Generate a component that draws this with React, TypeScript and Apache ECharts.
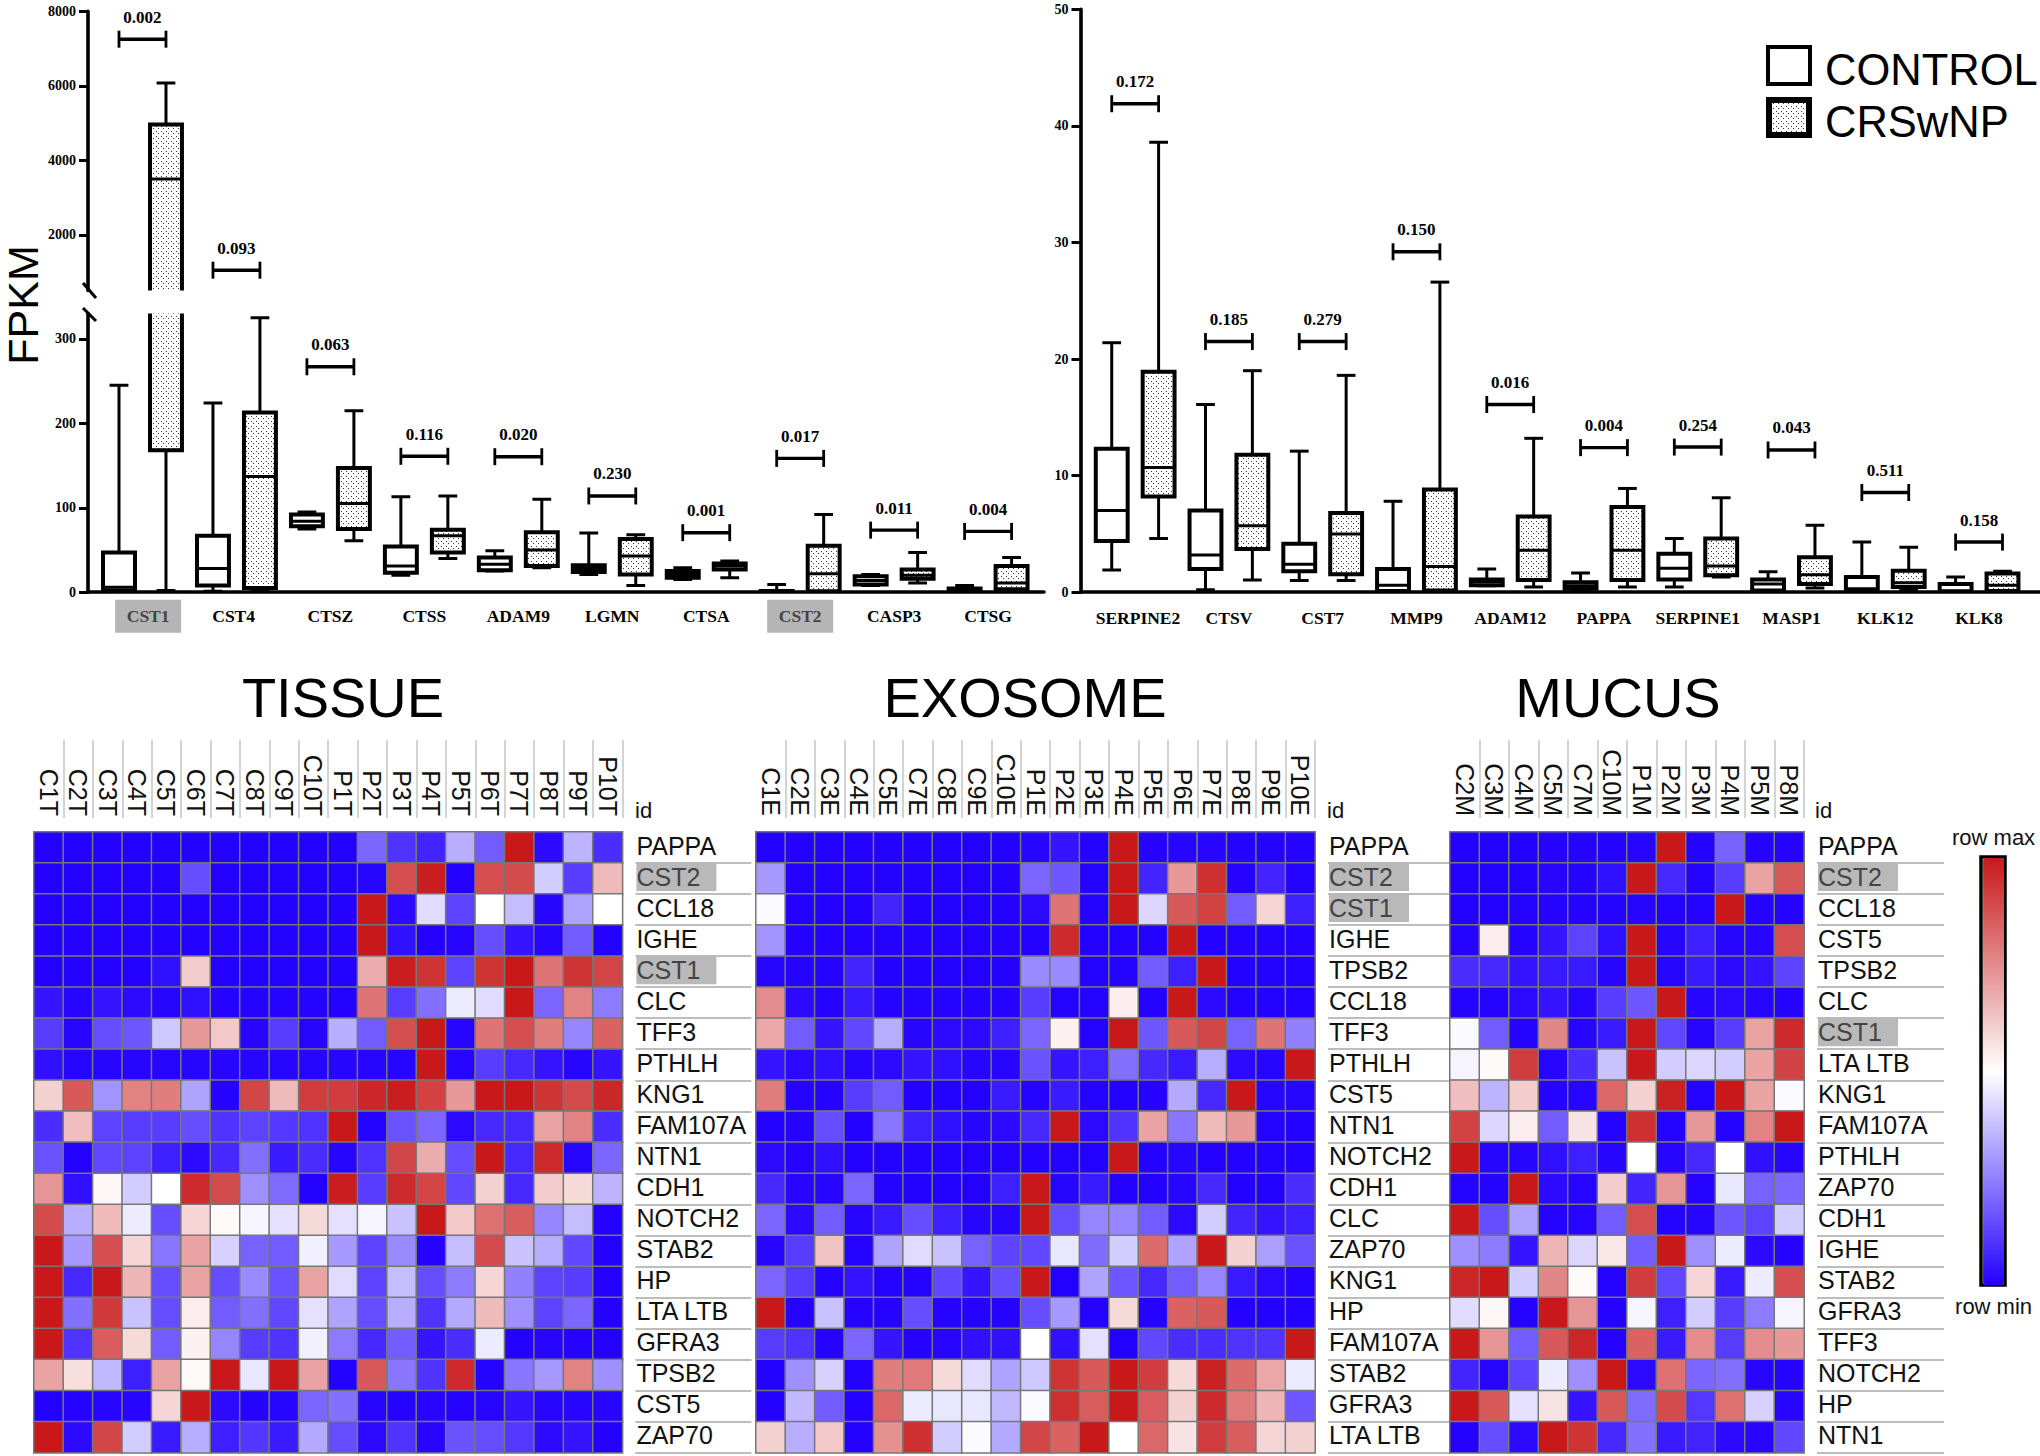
import React, { useEffect, useRef } from "react";
import * as echarts from "echarts";

const leftGenes = ["CST1", "CST4", "CTSZ", "CTSS", "ADAM9", "LGMN", "CTSA", "CST2", "CASP3", "CTSG"];
const leftLabelPositions = [0.06, 0.97, 2, 3, 4, 5, 6, 7, 8, 9];
const rightGenes = ["SERPINE2", "CTSV", "CST7", "MMP9", "ADAM12", "PAPPA", "SERPINE1", "MASP1", "KLK12", "KLK8"];
const rightLabelPositions = [0.03, 1, 2, 3, 4, 5, 6, 7, 8, 9];

// [low, q1, median, q3, high]
const leftControl = [
  [0.5, 2, 6, 47, 245], [1, 8, 28, 67, 224], [75, 78, 84, 92, 95], [20, 23, 31, 54, 113], [25, 26, 33, 41, 49],
  [21, 24, 28, 32, 70], [15, 17, 21, 25, 29], [0.3, 0.5, 1, 1.5, 9], [8, 9, 14, 19, 21], [1, 1.5, 2.5, 4.5, 8],
];
const leftCrs = [
  [2, 168, 3500, 4960, 6080], [1, 5, 137, 213, 325], [61, 75, 105, 147, 215], [40, 47, 67, 74, 114], [29, 31, 50, 71, 110],
  [8, 21, 43, 63, 68], [17, 27, 31, 34, 37], [0.5, 1, 22, 55, 92], [11, 16, 20, 27, 47], [2, 3.5, 11, 31, 41],
];
const rightControl = [
  [1.9, 4.4, 7.0, 12.3, 21.4], [0.2, 2.0, 3.2, 7.0, 16.1], [1.0, 1.8, 2.4, 4.15, 12.1], [0.05, 0.1, 0.6, 2.0, 7.8], [0.55, 0.6, 0.9, 1.1, 2.0],
  [0.2, 0.3, 0.55, 0.85, 1.65], [0.45, 1.1, 2.05, 3.3, 4.6], [0.07, 0.15, 0.7, 1.1, 1.75], [0.07, 0.1, 0.3, 1.3, 4.3], [0.03, 0.07, 0.1, 0.7, 1.3],
];
const rightCrs = [
  [4.6, 8.2, 10.7, 18.9, 38.6], [1.05, 3.7, 5.7, 11.8, 19.0], [1.0, 1.55, 5.0, 6.8, 18.6], [0.1, 0.15, 2.2, 8.8, 26.6], [0.45, 1.05, 3.6, 6.5, 13.2],
  [0.45, 1.05, 3.6, 7.3, 8.9], [1.3, 1.45, 2.25, 4.6, 8.1], [0.35, 0.7, 1.5, 3.0, 5.75], [0.2, 0.45, 0.8, 1.85, 3.85], [0.05, 0.1, 0.6, 1.6, 1.8],
];

const leftBrackets = [7254, 1050, 267, 161, 160.5, 114, 70.5, 158.5, 73.5, 72];
const leftPValues = ["0.002", "0.093", "0.063", "0.116", "0.020", "0.230", "0.001", "0.017", "0.011", "0.004"];
const rightBrackets = [41.9, 21.5, 21.5, 29.2, 16.1, 12.4, 12.45, 12.2, 8.55, 4.3];
const rightPValues = ["0.172", "0.185", "0.279", "0.150", "0.016", "0.004", "0.254", "0.043", "0.511", "0.158"];

const upperTicks = [2000, 4000, 6000, 8000];
const lowerTicks = [0, 100, 200, 300];
const rightTicks = [0, 10, 20, 30, 40, 50];

const tissueCols = ["C1T", "C2T", "C3T", "C4T", "C5T", "C6T", "C7T", "C8T", "C9T", "C10T", "P1T", "P2T", "P3T", "P4T", "P5T", "P6T", "P7T", "P8T", "P9T", "P10T"];
const tissueGenes = ["PAPPA", "CST2", "CCL18", "IGHE", "CST1", "CLC", "TFF3", "PTHLH", "KNG1", "FAM107A", "NTN1", "CDH1", "NOTCH2", "STAB2", "HP", "LTA LTB", "GFRA3", "TPSB2", "CST5", "ZAP70"];
const tissueValues = [
  [0, 0, 0, 0, 0, 0, 0, 0, 0, 0, 0, 2, 1, 0.7, 3.4, 1.8, 10, 0.2, 3.5, 0.9],
  [0, 0, 0, 0, 0, 1.5, 0, 0, 0, 0, 0, 0.1, 8.8, 9.9, 0, 8.8, 8.9, 4, 1.2, 6.5],
  [0, 0, 0, 0, 0, 0, 0, 0, 0, 0, 0, 10, 0.2, 4.3, 1.3, 5, 3.7, 0.1, 3.2, 5],
  [0, 0, 0, 0, 0, 0, 0, 0, 0, 0, 0, 10, 0.3, 0, 0.1, 1.5, 0.4, 0.1, 1.8, 0],
  [0, 0, 0, 0, 0.3, 6.1, 0, 0, 0, 0, 0, 6.8, 9.9, 9.4, 1.3, 9.4, 10, 8, 9.4, 9],
  [0.4, 0.1, 0.4, 0.2, 0.1, 0.3, 0.05, 0.05, 0.05, 0.05, 0, 8, 1.2, 2.2, 4.6, 4.3, 10, 2, 7.7, 2.4],
  [1.2, 0.1, 1.5, 1.7, 3.9, 7.2, 6.2, 0.1, 1.2, 0.1, 3.4, 1.8, 8.8, 10, 0.1, 8, 8.8, 7.8, 2.6, 8.4],
  [0.3, 0.1, 0.1, 0.1, 0.1, 0.1, 0.1, 0.1, 0.1, 0.1, 0.1, 0.1, 0.1, 10, 0.1, 1.2, 0.8, 0.4, 0.1, 0.4],
  [6, 8.6, 2.9, 7.7, 7.8, 3.2, 0.05, 9, 6.5, 9.2, 9.2, 9.7, 9.9, 9.1, 7.2, 10, 10, 9.4, 8.9, 9.7],
  [0.9, 6.4, 1.3, 1.2, 1.2, 1.5, 1, 1.3, 1.1, 1, 10, 0.05, 1.6, 2, 0.2, 0.8, 0.8, 7, 7.7, 0.9],
  [1.6, 0, 1.4, 1.3, 0.6, 0.2, 0.8, 2.2, 0.5, 0.9, 0.1, 1, 9, 6.8, 1.5, 10, 0.8, 9.6, 0.1, 2],
  [7.3, 0.3, 5.2, 4, 5, 9.6, 8.9, 2.8, 2.1, 0, 9.9, 1.2, 9.6, 9, 1.4, 6, 0.8, 6.1, 5.8, 3.5],
  [8.9, 3.4, 6.5, 4.6, 1.5, 5.9, 5.1, 4.8, 4.4, 5.8, 4.4, 4.8, 3.8, 10, 6.2, 8.1, 8.5, 2.6, 3.7, 0],
  [10, 3, 8.8, 5.9, 2.3, 7, 4.1, 1.9, 1.8, 4.7, 3, 1.3, 2.7, 0.05, 3.7, 8.9, 3.8, 3.4, 1.4, 0],
  [10, 0.8, 10, 6.6, 1.5, 7, 1.5, 2.7, 1.6, 7, 4.3, 1.3, 3.7, 1.5, 2.4, 5.9, 2.5, 1.3, 1.2, 0],
  [10, 2.2, 9.3, 3.8, 1.5, 5.4, 1.8, 2.2, 1.4, 4.4, 3.2, 1.5, 3.4, 1, 3.3, 6.5, 2.8, 1.3, 2, 0],
  [10, 1, 8.5, 5.8, 1.8, 5.3, 2.6, 1.2, 1, 4.7, 2.4, 0.8, 1.8, 0.4, 0.9, 4.6, 0, 0.1, 0.05, 0],
  [7, 5.7, 3.6, 0.6, 7, 5.1, 10, 4.5, 10, 7, 0, 8.6, 2.3, 1, 9.6, 0.05, 2.3, 3, 7.7, 2.8],
  [0, 0.05, 0.1, 0.1, 5.9, 10, 0.2, 0.05, 0.1, 2, 2.2, 0.1, 0.05, 0.1, 0.05, 0.1, 0.4, 0.1, 0.1, 0.1],
  [10, 0.2, 9, 4, 0.5, 3.4, 0.6, 1.1, 0.5, 3.3, 1.5, 0.2, 1, 0.1, 1.6, 1.5, 1.1, 0.2, 0.4, 0],
];

const exosomeCols = ["C1E", "C2E", "C3E", "C4E", "C5E", "C7E", "C8E", "C9E", "C10E", "P1E", "P2E", "P3E", "P4E", "P5E", "P6E", "P7E", "P8E", "P9E", "P10E"];
const exosomeGenes = ["PAPPA", "CST2", "CST1", "IGHE", "TPSB2", "CCL18", "TFF3", "PTHLH", "CST5", "NTN1", "NOTCH2", "CDH1", "CLC", "ZAP70", "KNG1", "HP", "FAM107A", "STAB2", "GFRA3", "LTA LTB"];
const exosomeValues = [
  [0, 0, 0, 0, 0, 0, 0, 0, 0, 0.1, 0.4, 0.05, 10, 0.05, 0.1, 0.1, 0.05, 0.05, 0.05],
  [3, 0, 0, 0, 0, 0, 0, 0, 0, 2, 1.7, 0.05, 10, 0.7, 7.2, 9.5, 0.05, 0.7, 0.05],
  [4.9, 0, 0, 0, 0.7, 0, 0, 0, 0, 0.2, 8, 0.05, 10, 4.2, 8.6, 9.1, 1.8, 5.9, 0.6],
  [2.9, 0, 0, 0, 0, 0, 0, 0, 0, 0, 9.6, 0, 0, 0, 10, 0, 0, 0, 0],
  [0.1, 0.05, 0.05, 0.7, 0, 0, 0, 0, 0, 2.7, 2.7, 0.05, 0.05, 1.8, 0.6, 10, 0, 0, 0],
  [7.5, 0.2, 0.05, 0.5, 0.05, 0.05, 0.05, 0.05, 0.05, 1.2, 0.05, 0.05, 5.4, 0.05, 10, 0.2, 0, 0, 0],
  [6.9, 1.8, 0.4, 1.4, 3.4, 0.1, 0.2, 0.2, 0.6, 2, 5.3, 0.05, 10, 1.7, 8.6, 9, 1.9, 8, 2.5],
  [0.4, 0.2, 0.3, 0.1, 0.2, 0.4, 0.3, 0.1, 0.1, 1.6, 0.4, 0.6, 2.2, 0.8, 0.5, 3.4, 0.2, 0.1, 10],
  [7.8, 0.05, 0.05, 1.2, 1.8, 0, 0, 0, 0.5, 0.05, 0.5, 0.05, 0, 0.05, 3.3, 0.8, 10, 0.1, 0.1],
  [0, 0.05, 1.5, 0, 2.3, 0.6, 0.3, 0.1, 0.2, 0.8, 10, 0.2, 1, 7, 2.3, 6.5, 7.2, 0.05, 0],
  [0.2, 0.05, 0.3, 0, 0, 0, 0, 0, 0, 0, 0, 0, 10, 0, 0.1, 0, 0, 0, 0],
  [0.8, 0.1, 0.1, 2, 0.05, 0, 0, 0, 0.6, 10, 0.1, 0.5, 0, 0, 0.1, 0.8, 0, 0, 0.9],
  [2, 0.2, 1.8, 0.1, 0.5, 1.5, 0.6, 0.1, 0.1, 10, 1.5, 2.6, 2.6, 1.8, 0.2, 4, 0.7, 0.4, 0.6],
  [0.1, 1.2, 6.3, 0.05, 3.2, 4.3, 3.8, 1.9, 1.3, 1.4, 4.5, 2.1, 4, 8.2, 3.2, 10, 6, 3.1, 1.6],
  [2, 1.2, 0.05, 0.4, 0.05, 0.05, 1.4, 0.4, 1.5, 10, 0, 3.2, 1.7, 0.8, 1.8, 2.6, 0.5, 0.2, 0.05],
  [10, 0.05, 3.8, 0.05, 0.05, 1.5, 0.05, 0.05, 0.05, 1.5, 3, 0.05, 5.8, 0.05, 8.4, 8.6, 0, 0, 0],
  [1.2, 1, 0.05, 2, 0.4, 0.05, 0.1, 0.3, 0.3, 5, 0.3, 4.4, 0, 1.4, 0.9, 0.9, 1, 1, 10],
  [0, 2.8, 4.1, 0, 7.8, 7.9, 5.8, 4.3, 3.2, 3.9, 9.4, 8.6, 10, 9.2, 5.8, 9.8, 8.2, 6.9, 4.6],
  [0, 3.6, 1.8, 0, 8.3, 4.6, 4.5, 4.5, 3.6, 4.9, 9.5, 8.5, 10, 8.5, 6, 9.6, 7.9, 6.6, 1.7],
  [6, 3.4, 6.2, 0, 7.4, 9.5, 4, 4.9, 3.3, 9, 8.4, 10, 5, 8.3, 5.6, 9.2, 8.5, 5.9, 6],
];

const mucusCols = ["C2M", "C3M", "C4M", "C5M", "C7M", "C10M", "P1M", "P2M", "P3M", "P4M", "P5M", "P8M"];
const mucusGenes = ["PAPPA", "CST2", "CCL18", "CST5", "TPSB2", "CLC", "CST1", "LTA LTB", "KNG1", "FAM107A", "PTHLH", "ZAP70", "CDH1", "IGHE", "STAB2", "GFRA3", "TFF3", "NOTCH2", "HP", "NTN1"];
const mucusValues = [
  [0, 0, 0, 0.05, 0.05, 0.05, 0.1, 10, 0.05, 1.9, 0.05, 0.05],
  [0, 0, 0, 0.1, 0.05, 0.3, 10, 0.8, 0.05, 1.2, 7, 8.6],
  [0, 0, 0.05, 0.05, 0.05, 0.05, 0.1, 0.05, 0.05, 10, 0.05, 0.05],
  [0.05, 5.4, 0.05, 0.4, 1.3, 0.3, 10, 0.1, 0.6, 0.1, 0.1, 8.8],
  [0.9, 0.8, 0.4, 0.5, 0.5, 0.1, 10, 0.1, 0.5, 0.2, 0.4, 1.3],
  [0.05, 0.05, 0.2, 0.4, 0.1, 1.2, 1.7, 10, 0.1, 0.2, 0.1, 0.05],
  [4.9, 1.8, 0.05, 7.6, 0.1, 0.5, 10, 1.4, 0.1, 1.2, 7, 9.6],
  [4.8, 5.1, 9.2, 0.1, 0.9, 3.8, 10, 4, 4.2, 4, 7, 9.1],
  [6.4, 3.5, 6.1, 0.05, 0.1, 8.3, 6, 9.8, 0.05, 10, 7, 4.9],
  [9.1, 4.2, 5.4, 1.8, 5.6, 0.05, 9.5, 0.05, 7.2, 0.05, 7.7, 10],
  [10, 0.1, 0.1, 0.3, 0.6, 0.1, 5, 0.1, 0.8, 5, 0.3, 0.1],
  [0.05, 0.05, 10, 0.2, 0.1, 6.1, 0.7, 7.3, 0.05, 4.5, 1.9, 2],
  [10, 1.5, 3.2, 0.05, 0.1, 1.8, 8.8, 0.05, 0.1, 1.7, 1.3, 4],
  [2.8, 2.4, 0.4, 6.6, 4.2, 5.5, 1.8, 10, 2.8, 4.6, 0.2, 0.05],
  [9.7, 10, 4, 7.6, 5.1, 0.05, 9.2, 1.4, 5.9, 0.5, 4.6, 8.8],
  [4.3, 5.2, 0.05, 10, 7.3, 0.05, 4.8, 0.6, 4, 1.2, 2.4, 4.8],
  [10, 7.3, 1.8, 8.6, 9.7, 0.05, 8.4, 0.5, 7.5, 1.2, 7.5, 7.2],
  [0.7, 0.1, 1.3, 4.6, 2.8, 10, 0.2, 8.1, 2, 2.2, 0.1, 0.05],
  [10, 8.6, 4.4, 5.6, 0.4, 8.6, 2.1, 8.9, 1.1, 8.1, 4.1, 0.1],
  [0, 1.5, 0.2, 10, 9.4, 0.8, 2.2, 0.5, 0.7, 0.2, 0.1, 1.4],
];

const highlighted = ["CST1", "CST2"];
const SANS = '"Liberation Sans", Arial, sans-serif';
const SERIF = '"Liberation Serif", "Times New Roman", serif';
const INK = "#000";

function makeDots(): HTMLCanvasElement {
  const c = document.createElement("canvas");
  c.width = 5;
  c.height = 5;
  const g = c.getContext("2d")!;
  g.fillStyle = "#fff";
  g.fillRect(0, 0, 5, 5);
  g.fillStyle = "#333";
  g.fillRect(1, 1, 1, 1);
  g.fillRect(3, 3, 1, 1);
  return c;
}

function boxRows(control: number[][], crs: number[][]) {
  const rows: number[][] = [];
  control.forEach((b, i) => rows.push([i - 0.25, ...b, 0]));
  crs.forEach((b, i) => rows.push([i + 0.25, ...b, 1]));
  return rows;
}

function makeRenderBox(dots: any) {
  return (_: any, api: any) => {
    const xv = api.value(0);
    const [low, q1, med, q3, high] = [1, 2, 3, 4, 5].map((d) => api.value(d));
    const crs = api.value(6) === 1;
    const cx = api.coord([xv, 0])[0];
    const unit = api.size([1, 0])[0];
    const hw = unit * 0.17;
    const cap = unit * 0.1;
    const y = (v: number) => api.coord([xv, v])[1];
    const stroke = { stroke: INK, lineWidth: 3, fill: "none" };
    const line = (x1: number, y1: number, x2: number, y2: number) => ({ type: "line", shape: { x1, y1, x2, y2 }, style: stroke });
    return {
      type: "group",
      children: [
        line(cx, y(high), cx, y(q3)),
        line(cx, y(q1), cx, y(low)),
        line(cx - cap, y(high), cx + cap, y(high)),
        line(cx - cap, y(low), cx + cap, y(low)),
        {
          type: "rect",
          shape: { x: cx - hw, y: y(q3), width: hw * 2, height: y(q1) - y(q3) },
          style: { fill: crs ? dots : "#fff", stroke: INK, lineWidth: 4 },
        },
        line(cx - hw, y(med), cx + hw, y(med)),
      ],
    };
  };
}

function makeRenderBracket(labels: string[]) {
  return (_: any, api: any) => {
    const i = api.value(0);
    const yv = api.value(1);
    const [x1, y] = api.coord([i - 0.25, yv]);
    const [x2] = api.coord([i + 0.25, yv]);
    const bar = { stroke: INK, lineWidth: 3.4 };
    const end = { stroke: INK, lineWidth: 2.8 };
    return {
      type: "group",
      children: [
        { type: "line", shape: { x1, y1: y, x2, y2: y }, style: bar },
        { type: "line", shape: { x1, y1: y - 8.5, x2: x1, y2: y + 8.5 }, style: end },
        { type: "line", shape: { x1: x2, y1: y - 8.5, x2, y2: y + 8.5 }, style: end },
        {
          type: "text",
          x: (x1 + x2) / 2,
          y: y - 22,
          style: { text: labels[i], align: "center", verticalAlign: "middle", font: `bold 17px ${SERIF}`, fill: INK },
        },
      ],
    };
  };
}

function bracketRows(values: number[], keep: (v: number) => boolean) {
  return values.map((v, i) => [i, v]).filter((r) => keep(r[1]));
}

const boxAxisLine = { lineStyle: { color: INK, width: 3.6 } };
function yAxisBox(gridIndex: number, min: number, max: number, ticks: number[]) {
  return {
    type: "value",
    gridIndex,
    min,
    max,
    splitLine: { show: false },
    axisLine: { show: true, onZero: false, ...boxAxisLine },
    axisTick: { show: true, length: 9, customValues: ticks, lineStyle: { color: INK, width: 3 } },
    axisLabel: {
      customValues: ticks,
      margin: 12,
      fontFamily: SERIF,
      fontWeight: "bold",
      fontSize: 14,
      color: INK,
      formatter: (v: number) => String(v),
    },
  };
}
function xAxisBox(gridIndex: number, min: number, max: number, genes: string[] | null, positions: number[] = [], margin = 24) {
  const common: any = { type: "value", gridIndex, min, max, splitLine: { show: false }, axisTick: { show: false } };
  if (!genes) return { ...common, show: false };
  return {
    ...common,
    axisLine: { show: true, onZero: false, ...boxAxisLine },
    axisLabel: {
      customValues: positions,
      margin,
      verticalAlign: "middle",
      fontFamily: SERIF,
      fontWeight: "bold",
      fontSize: 17.5,
      color: INK,
      formatter: (v: number) => {
        const g = genes[Math.round(v)];
        return highlighted.includes(g) ? `{hl|${g}}` : g;
      },
      rich: {
        hl: {
          backgroundColor: "#b5b5b5",
          color: "#444",
          width: 66,
          height: 33,
          lineHeight: 33,
          align: "center",
          fontFamily: SERIF,
          fontWeight: "bold",
          fontSize: 17.5,
        },
      },
    },
  };
}

function heatAxes(gridIndex: number, cols: string[], genes: string[], tickLen: number) {
  return {
    x: {
      type: "category",
      gridIndex,
      position: "top",
      offset: 14,
      data: cols,
      axisLine: { show: false },
      splitLine: { show: false },
      axisTick: { show: true, length: 78, interval: (i: number) => i > 0, lineStyle: { color: "#c4c4c4", width: 1.5 } },
      axisLabel: { interval: 0, rotate: 90, margin: 2, fontFamily: SANS, fontSize: 25, color: "#111" },
    },
    y: {
      type: "category",
      gridIndex,
      position: "right",
      offset: 13,
      inverse: true,
      data: genes,
      axisLine: { show: false },
      splitLine: { show: false },
      axisTick: { show: true, length: tickLen, interval: (i: number) => i > 0, lineStyle: { color: "#bdbdbd", width: 2 } },
      axisLabel: {
        interval: 0,
        margin: 1,
        padding: [0, 0, 4, 0],
        fontFamily: SANS,
        fontSize: 25,
        color: "#111",
        formatter: (v: string) => (highlighted.includes(v) ? `{hl|${v}}` : v),
        rich: {
          hl: {
            backgroundColor: "#b9b9b9",
            color: "#444",
            width: 80,
            height: 29,
            lineHeight: 29,
            fontFamily: SANS,
            fontSize: 25,
          },
        },
      },
    },
  };
}

function heatRows(values: number[][]) {
  const out: number[][] = [];
  values.forEach((row, y) => row.forEach((v, x) => out.push([x, y, v])));
  return out;
}

function heatSeries(axisIndex: number, values: number[][]) {
  return {
    type: "heatmap",
    xAxisIndex: axisIndex,
    yAxisIndex: axisIndex,
    data: heatRows(values),
    itemStyle: { borderColor: "#777", borderWidth: 1.5 },
    emphasis: { disabled: true },
    progressive: 0,
  };
}

export default function App() {
  const ref = useRef<HTMLDivElement>(null);
  useEffect(() => {
    const chart = echarts.init(ref.current!, undefined, { renderer: "svg" });
    const dots = { image: makeDots(), repeat: "repeat" };
    const renderBox = makeRenderBox(dots);
    const leftBoxes = boxRows(leftControl, leftCrs);
    const rightBoxes = boxRows(rightControl, rightCrs);
    const boxEncode = { x: 0, y: [1, 2, 3, 4, 5] };

    const lMin = -0.58;
    const lMax = 9.595;
    const rMin = -0.583;
    const rMax = 9.65;
    const breakValue = 507;

    const tissue = heatAxes(3, tissueCols, tissueGenes, 116);
    const exosome = heatAxes(4, exosomeCols, exosomeGenes, 122);
    const mucus = heatAxes(5, mucusCols, mucusGenes, 127);

    const titleOf = (text: string, left: number) => ({
      text,
      left,
      top: 664,
      textAlign: "center",
      textStyle: { fontFamily: SANS, fontWeight: "normal", fontSize: 56, color: INK },
    });
    const idOf = (x: number) => ({
      type: "text",
      x,
      y: 810,
      style: { text: "id", font: `22px ${SANS}`, verticalAlign: "middle", fill: "#111" },
    });
    const slash = (x1: number, y1: number, x2: number, y2: number) => ({
      type: "line",
      shape: { x1, y1, x2, y2 },
      style: { stroke: INK, lineWidth: 3 },
    });

    chart.setOption({
      animation: false,
      backgroundColor: "#fff",
      title: [titleOf("TISSUE", 338), titleOf("EXOSOME", 1020), titleOf("MUCUS", 1613)],
      grid: [
        { left: 88, top: 11.4, width: 956, height: 279 },
        { left: 88, top: 313.6, width: 956, height: 278.6 },
        { left: 1080.5, top: 9.3, width: 959.5, height: 582.9 },
        { left: 34, top: 832, width: 588.4, height: 620.7 },
        { left: 756, top: 832, width: 559, height: 620.7 },
        { left: 1450, top: 832, width: 354, height: 620.7 },
      ],
      xAxis: [
        xAxisBox(0, lMin, lMax, null),
        xAxisBox(1, lMin, lMax, leftGenes, leftLabelPositions),
        xAxisBox(2, rMin, rMax, rightGenes, rightLabelPositions, 26),
        tissue.x,
        exosome.x,
        mucus.x,
      ],
      yAxis: [
        yAxisBox(0, breakValue, 8000, upperTicks),
        yAxisBox(1, 0, 330, lowerTicks),
        yAxisBox(2, 0, 50, rightTicks),
        tissue.y,
        exosome.y,
        mucus.y,
      ],
      visualMap: {
        type: "continuous",
        seriesIndex: [6, 7, 8],
        min: 0,
        max: 10,
        calculable: false,
        realtime: false,
        orient: "vertical",
        left: 1952,
        top: 826,
        itemWidth: 21,
        itemHeight: 427,
        text: ["row max", "row min"],
        textGap: 10,
        padding: 0,
        textStyle: { fontFamily: SANS, fontSize: 22, color: "#111" },
        inRange: { color: ["#2400ff", "#ffffff", "#c8181a"] },
      },
      graphic: [
        slash(83, 283, 96, 298),
        slash(83, 308, 96, 321),
        {
          type: "text",
          x: 23,
          y: 305,
          rotation: Math.PI / 2,
          style: { text: "FPKM", font: `43px ${SANS}`, align: "center", verticalAlign: "middle", fill: INK },
        },
        { type: "rect", shape: { x: 1768, y: 47, width: 42, height: 37 }, style: { fill: "#fff", stroke: INK, lineWidth: 4 } },
        { type: "rect", shape: { x: 1769, y: 100, width: 40, height: 35 }, style: { fill: dots, stroke: INK, lineWidth: 6 } },
        { type: "text", x: 1825, y: 70, style: { text: "CONTROL", font: `43.5px ${SANS}`, verticalAlign: "middle", fill: INK } },
        { type: "text", x: 1825, y: 122, style: { text: "CRSwNP", font: `43.5px ${SANS}`, verticalAlign: "middle", fill: INK } },
        idOf(635),
        idOf(1327),
        idOf(1815),
        { type: "rect", shape: { x: 1981, y: 857, width: 24, height: 428 }, style: { fill: "none", stroke: INK, lineWidth: 3.5 } },
      ],
      series: [
        { type: "custom", xAxisIndex: 0, yAxisIndex: 0, clip: true, renderItem: renderBox, data: leftBoxes, encode: boxEncode },
        { type: "custom", xAxisIndex: 1, yAxisIndex: 1, clip: true, renderItem: renderBox, data: leftBoxes, encode: boxEncode },
        { type: "custom", xAxisIndex: 2, yAxisIndex: 2, clip: true, renderItem: renderBox, data: rightBoxes, encode: boxEncode },
        {
          type: "custom", xAxisIndex: 0, yAxisIndex: 0, renderItem: makeRenderBracket(leftPValues),
          data: bracketRows(leftBrackets, (v) => v > 330), encode: { x: 0, y: 1 },
        },
        {
          type: "custom", xAxisIndex: 1, yAxisIndex: 1, renderItem: makeRenderBracket(leftPValues),
          data: bracketRows(leftBrackets, (v) => v <= 330), encode: { x: 0, y: 1 },
        },
        {
          type: "custom", xAxisIndex: 2, yAxisIndex: 2, renderItem: makeRenderBracket(rightPValues),
          data: bracketRows(rightBrackets, () => true), encode: { x: 0, y: 1 },
        },
        heatSeries(3, tissueValues),
        heatSeries(4, exosomeValues),
        heatSeries(5, mucusValues),
      ],
    });
    return () => chart.dispose();
  }, []);
  return <div ref={ref} style={{ position: "absolute", left: 0, top: 0, width: 2040, height: 1456 }} />;
}
